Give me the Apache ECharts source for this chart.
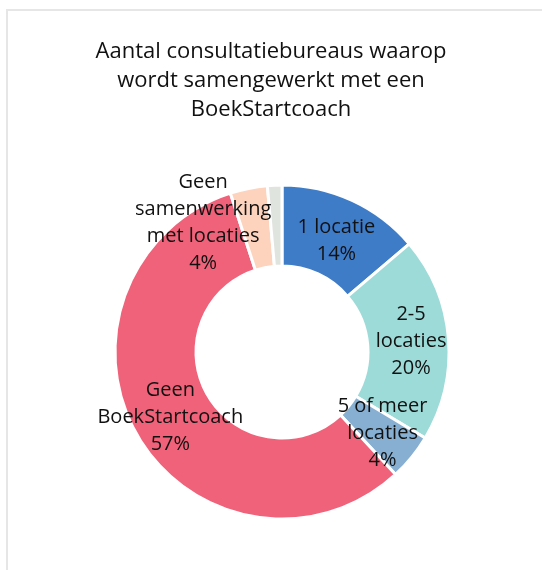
<!DOCTYPE html>
<html>
<head>
<meta charset="utf-8">
<script src="https://cdn.jsdelivr.net/npm/echarts@6/dist/echarts.min.js"></script>
<style>
  html, body { margin: 0; padding: 0; background: #fff; }
  #frame {
    position: absolute; left: 6px; top: 9px; width: 560px; height: 580px;
    border-top: 2px solid #e6e6e6; border-left: 2px solid #e6e6e6;
  }
  #chart { position: absolute; left: 8px; top: 11px; width: 526px; height: 559px; }
</style>
</head>
<body>
<div id="frame"></div>
<div id="chart"></div>
<script>
// share of consultatiebureaus (percent, read from the donut)
const names = [
  '1 locatie',
  '2-5\nlocaties',
  '5 of meer\nlocaties',
  'Geen\nBoekStartcoach',
  'Geen\nsamenwerking\nmet locaties',
  'Onbekend'
];
const values = [13.8, 19.8, 4.5, 56.9, 3.6, 1.4];
const colors = ['#3f7cc8', '#9ddbd9', '#86afd2', '#ef6279', '#fdd3bd', '#e0e4df'];

let myChart = echarts.init(document.getElementById('chart'));

let data = names.map((n, i) => {
  let item = { name: n, value: values[i], itemStyle: { color: colors[i] } };
  if (i === 5) item.label = { show: false };
  // labels that were dragged a bit in the original
  if (i === 0) item.label = { offset: [0, 6] };
  if (i === 4) item.label = { offset: [-53, -2] };
  return item;
});

let option = {
  animation: false,
  title: {
    text: 'Aantal consultatiebureaus waarop\nwordt samengewerkt met een\nBoekStartcoach',
    left: 'center',
    top: 21,
    textStyle: {
      fontFamily: 'Open Sans',
      fontWeight: 'normal',
      fontSize: 22,
      lineHeight: 29,
      color: '#111'
    }
  },
  series: [{
    type: 'pie',
    center: [274, 341],
    radius: [86, 167],
    startAngle: 90,
    clockwise: true,
    percentPrecision: 0,
    itemStyle: { borderColor: '#fff', borderWidth: 3 },
    label: {
      show: true,
      position: 'inside',
      formatter: '{b}\n{d}%',
      fontFamily: 'Open Sans',
      fontSize: 20,
      lineHeight: 27,
      color: '#111'
    },
    labelLine: { show: false },
    data: data
  }]
};

myChart.setOption(option);
</script>
</body>
</html>
